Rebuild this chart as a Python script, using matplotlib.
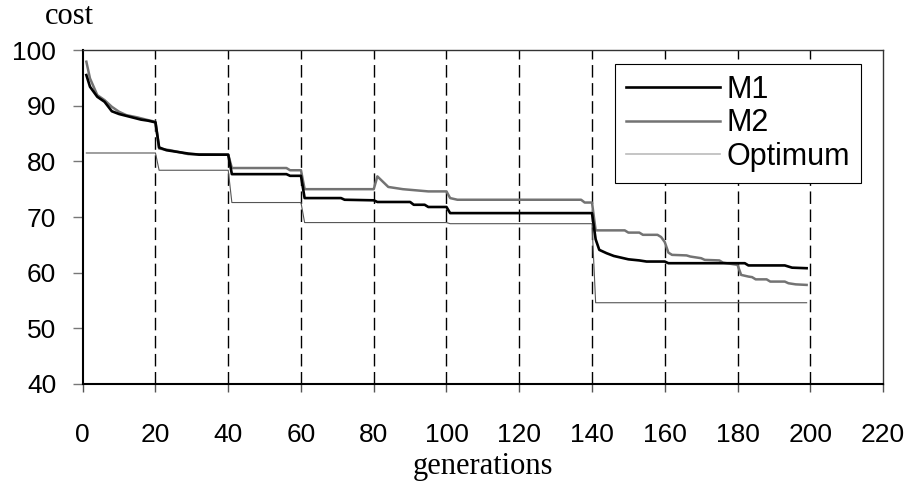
import matplotlib
matplotlib.use("Agg")
import matplotlib.pyplot as plt

# ---- data ----
m1_gen = [1, 2, 4, 6, 8, 10, 13, 16, 18, 20, 21, 23, 26, 29, 32, 40, 41, 56, 57, 60,
          61, 71, 72, 80, 81, 90, 91, 94, 95, 100, 101, 140, 141, 142, 144, 146, 148,
          150, 153, 155, 160, 161, 182, 183, 193, 195, 199]
m1_val = [95.5, 93.4, 91.6, 90.7, 89.0, 88.5, 88.0, 87.5, 87.3, 87.0, 82.5, 82.0, 81.7,
          81.4, 81.2, 81.2, 77.7, 77.7, 77.4, 77.4, 73.4, 73.4, 73.1, 73.0, 72.7, 72.7,
          72.2, 72.2, 71.8, 71.8, 70.7, 70.7, 66.0, 64.1, 63.5, 63.0, 62.7, 62.4, 62.2,
          62.0, 62.0, 61.7, 61.7, 61.3, 61.3, 60.9, 60.8]

m2_gen = [1, 2, 4, 6, 8, 10, 12, 15, 18, 20, 21, 24, 29, 40, 41, 56, 57, 60, 61, 80,
          81, 84, 88, 95, 100, 101, 103, 137, 138, 140, 141, 149, 150, 153, 154, 158,
          159, 160, 161, 162, 166, 167, 170, 171, 175, 176, 179, 180, 181, 183, 184,
          185, 188, 189, 193, 194, 196, 199]
m2_val = [97.9, 94.9, 91.9, 91.0, 89.8, 88.9, 88.3, 87.9, 87.4, 87.1, 82.3, 82.0, 81.3,
          81.2, 78.8, 78.8, 78.4, 78.4, 75.0, 75.0, 77.3, 75.4, 75.0, 74.6, 74.6, 73.4,
          73.1, 73.1, 72.6, 72.6, 67.6, 67.6, 67.2, 67.2, 66.8, 66.8, 66.4, 65.5, 63.6,
          63.2, 63.1, 62.9, 62.6, 62.3, 62.2, 61.8, 61.5, 61.4, 59.6, 59.3, 59.2, 58.8,
          58.8, 58.4, 58.4, 58.1, 57.9, 57.8]

opt_gen = [1, 20, 21, 40, 41, 60, 61, 100, 101, 140, 141, 199]
opt_val = [81.5, 81.5, 78.4, 78.4, 72.6, 72.6, 69.0, 69.0, 68.8, 68.8, 54.6, 54.6]

x_ticks = [0, 20, 40, 60, 80, 100, 120, 140, 160, 180, 200, 220]
y_ticks = [40, 50, 60, 70, 80, 90, 100]
grid_x = [20, 40, 60, 80, 100, 120, 140, 160, 180, 200]

# ---- figure ----
fig = plt.figure(figsize=(9.14, 4.87), dpi=100)
ax = fig.add_axes([0.0905, 0.2115, 0.8756, 0.6858])

ax.vlines(grid_x, 40, 100, colors="black", linewidth=1.0,
          linestyles=(0, (9, 4)), zorder=1)

ax.plot(opt_gen, opt_val, color="#555555", linewidth=0.8, label="Optimum", zorder=2)
ax.plot(m2_gen, m2_val, color="#737373", linewidth=1.8, label="M2", zorder=3)
ax.plot(m1_gen, m1_val, color="black", linewidth=1.9, label="M1", zorder=4)

ax.set_xlim(0, 220)
ax.set_ylim(40, 100)
ax.set_xticks(x_ticks)
ax.set_yticks(y_ticks)

tick_font = dict(family="Liberation Sans", size=19)
ax.set_xticklabels([str(t) for t in x_ticks], **tick_font)
ax.set_yticklabels([str(t) for t in y_ticks], **tick_font)
ax.tick_params(axis="x", direction="out", length=6, width=1, color="#555555", pad=22)
ax.tick_params(axis="y", direction="out", length=7, width=1, color="#777777", pad=12)

for side in ["left", "bottom"]:
    ax.spines[side].set_linewidth(1.5)
    ax.spines[side].set_color("black")
for side in ["top", "right"]:
    ax.spines[side].set_linewidth(1.0)
    ax.spines[side].set_color("#333333")

fig.text(0.049, 0.966, "cost", family="Liberation Serif", fontsize=22,
         ha="left", va="center")
ax.set_xlabel("generations", family="Liberation Serif", fontsize=22, labelpad=4)

leg_handles = [plt.Line2D([], [], color="black", linewidth=1.9),
               plt.Line2D([], [], color="#737373", linewidth=1.8),
               plt.Line2D([], [], color="#bbbbbb", linewidth=1.2)]
leg = ax.legend(leg_handles, ["M1", "M2", "Optimum"], loc="upper right",
                bbox_to_anchor=(0.972, 0.958), fancybox=False, framealpha=1,
                edgecolor="black", prop=dict(family="Liberation Sans", size=22),
                handlelength=3.08, handletextpad=0.2, labelspacing=0.12,
                borderpad=0.35, borderaxespad=0)
leg.get_frame().set_linewidth(0.8)

fig.savefig("out.png", dpi=100)
